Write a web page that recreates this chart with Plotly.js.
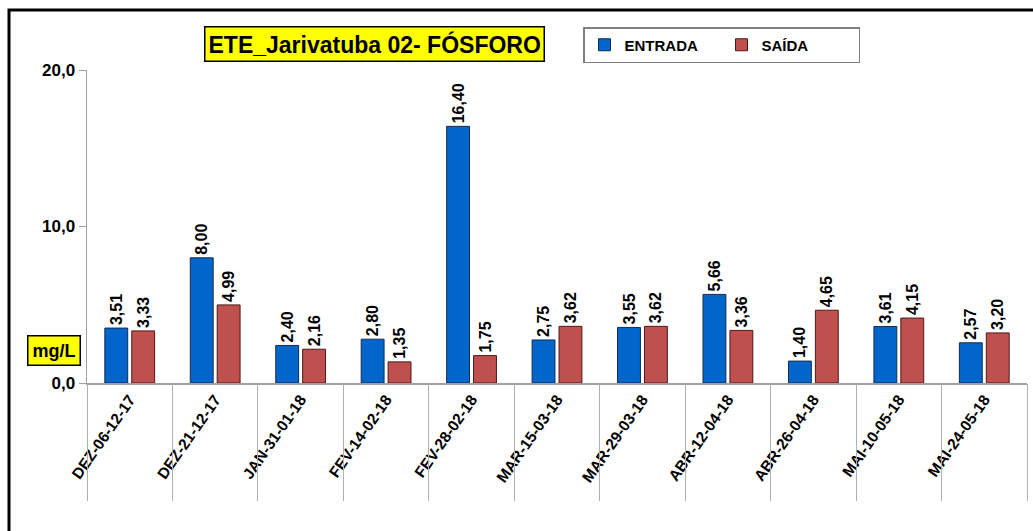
<!DOCTYPE html>
<html>
<head>
<meta charset="utf-8">
<script src="https://cdn.plot.ly/plotly-3.0.1.min.js"></script>
<style>html,body{margin:0;padding:0;background:#fff;}#chart{width:1033px;height:531px;}</style>
</head>
<body>
<div id="chart"></div>
<script>
const categories = ["DEZ-06-12-17","DEZ-21-12-17","JAN-31-01-18","FEV-14-02-18","FEV-28-02-18","MAR-15-03-18","MAR-29-03-18","ABR-12-04-18","ABR-26-04-18","MAI-10-05-18","MAI-24-05-18"];
const entrada = [3.51, 8.00, 2.40, 2.80, 16.40, 2.75, 3.55, 5.66, 1.40, 3.61, 2.57];
const saida = [3.33, 4.99, 2.16, 1.35, 1.75, 3.62, 3.62, 3.36, 4.65, 4.15, 3.20];
const yTicks = [0, 10, 20];

const FONT = "Liberation Sans, Arial, sans-serif";
const W = 1033, H = 531;
const M = {l: 87, r: 6, t: 70, b: 148};
const pw = W - M.l - M.r, ph = H - M.t - M.b;
const px = v => (v - M.l) / pw;
const py = v => (H - M.b - v) / ph;

const barText = {family: FONT, size: 16, color: "#000", weight: "bold"};

const traces = [
  {type: "bar", name: "ENTRADA", x: categories, y: entrada,
   marker: {color: "#0066CC", line: {color: "#1a2a4a", width: 1}},
   texttemplate: "%{y:.2f}", textposition: "outside", textangle: -90, constraintext: "none",
   textfont: barText, cliponaxis: false, hoverinfo: "none"},
  {type: "bar", name: "SAÍDA", x: categories, y: saida,
   marker: {color: "#C0504D", line: {color: "#4a1a1a", width: 1}},
   texttemplate: "%{y:.2f}", textposition: "outside", textangle: -90, constraintext: "none",
   textfont: barText, cliponaxis: false, hoverinfo: "none"}
];

const layout = {
  width: W, height: H,
  margin: M,
  separators: ",.",
  paper_bgcolor: "#fff", plot_bgcolor: "#fff",
  font: {family: FONT, color: "#000"},
  barmode: "group", bargap: 0.37, bargroupgap: 0.15,
  showlegend: true,
  legend: {orientation: "h", x: px(583), y: py(27), xanchor: "left", yanchor: "top",
           bordercolor: "#808080", borderwidth: 1.5, bgcolor: "#fff",
           font: {family: FONT, size: 15, weight: "bold", color: "#000"},
           itemwidth: 30, tracegroupgap: 0, entrywidth: 92},
  xaxis: {type: "category", showgrid: false, zeroline: false,
          showline: true, linecolor: "#a0a0a0", linewidth: 1.5,
          ticks: "", tickangle: -55,
          tickfont: {family: FONT, size: 15.5, weight: "bold", color: "#000"},
          fixedrange: true},
  xaxis2: {overlaying: "x", anchor: "y", side: "bottom", range: [-0.5, categories.length - 0.5],
           tick0: -0.5, dtick: 1, ticks: "outside", ticklen: 117, tickwidth: 1,
           tickcolor: "#b0b0b0", showticklabels: false, showgrid: false, zeroline: false,
           showline: false, fixedrange: true},
  yaxis: {range: [0, 20], tickvals: yTicks, tickformat: ".1f",
          showgrid: false, zeroline: false, showline: true, linecolor: "#a0a0a0", linewidth: 1.5,
          ticks: "outside", ticklen: 7, tickcolor: "#a0a0a0",
          tickfont: {family: FONT, size: 17, weight: "bold", color: "#000"},
          fixedrange: true},
  annotations: [
    {text: "ETE_Jarivatuba 02- FÓSFORO", xref: "paper", yref: "paper",
     x: px(374), y: py(44), xanchor: "center", yanchor: "middle", showarrow: false,
     bgcolor: "#FFFF00", bordercolor: "#000", borderwidth: 1.5, borderpad: 3,
     font: {family: FONT, size: 23, weight: "bold", color: "#000"}},
    {text: "mg/L", xref: "paper", yref: "paper",
     x: px(54), y: py(350), xanchor: "center", yanchor: "middle", showarrow: false,
     bgcolor: "#FFFF00", bordercolor: "#000", borderwidth: 1.5, borderpad: 4,
     font: {family: FONT, size: 18, weight: "bold", color: "#000"}}
  ],
  shapes: [
    {type: "rect", xref: "paper", yref: "paper", x0: px(9), x1: px(1045), y0: py(10), y1: py(545),
     line: {color: "#000", width: 3}, fillcolor: "rgba(0,0,0,0)", layer: "above"}
  ]
};

const helper = {type: "scatter", x: [0], y: [0], xaxis: "x2", yaxis: "y",
                mode: "markers", marker: {opacity: 0}, showlegend: false, hoverinfo: "skip"};

Plotly.newPlot("chart", traces.concat([helper]), layout, {displayModeBar: false, staticPlot: true});
</script>
</body>
</html>
